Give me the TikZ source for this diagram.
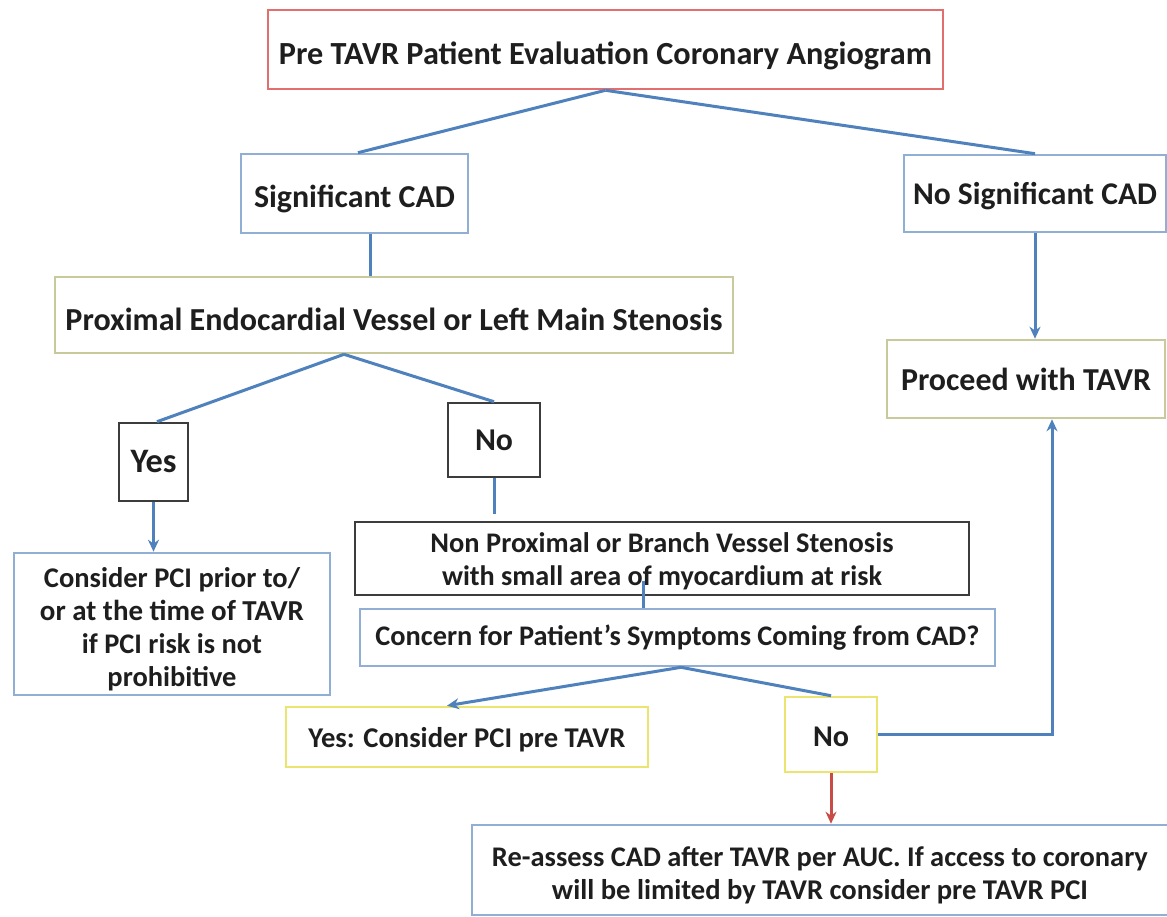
\documentclass[tikz,border=0pt]{standalone}
\usepackage{fontspec}
\setmainfont{Carlito}
\usetikzlibrary{arrows.meta,calc}
\definecolor{cblue}{RGB}{79,129,189}
\definecolor{cred}{RGB}{200,75,70}
\definecolor{bred}{RGB}{226,110,110}
\definecolor{bblue}{RGB}{145,175,212}
\definecolor{bkhaki}{RGB}{200,202,155}
\definecolor{bdark}{RGB}{60,60,60}
\definecolor{byellow}{RGB}{235,228,110}
\definecolor{txt}{RGB}{30,30,30}
\newcommand{\fitw}[2]{\resizebox{#1}{!}{#2}}
% lower the content of a centred node by half of #1
\newcommand{\lowr}[2]{\raisebox{0pt}[\dimexpr\height+#1\relax][\depth]{#2}}
\tikzset{
 box/.style={draw, line width=2.6pt, inner sep=0pt, align=center, text=txt,
   font=\fontsize{30}{33}\selectfont\bfseries},
 conn/.style={draw=cblue, line width=3pt},
 arr/.style={conn, -{Stealth[length=12pt,width=11pt]}},
 redarr/.style={draw=cred, line width=3pt, -{Stealth[length=12pt,width=11pt]}},
}
\begin{document}
\begin{tikzpicture}
\useasboundingbox[fill=white] (0,0) rectangle (1167pt,-917pt);

\node[box, draw=bred, minimum width=675pt, minimum height=79pt] (top) at (605.5pt,-49.5pt)
  {\lowr{13pt}{\fitw{653pt}{Pre TAVR Patient Evaluation Coronary Angiogram}}};
\node[box, draw=bblue, minimum width=227pt, minimum height=79pt] (sig) at (354.5pt,-193.5pt)
  {\lowr{11pt}{\fitw{201pt}{Significant CAD}}};
\node[box, draw=bblue, minimum width=262pt, minimum height=77pt] (nosig) at (1035pt,-193.5pt)
  {\lowr{5pt}{\fitw{244pt}{No Significant CAD}}};
\node[box, draw=bkhaki, minimum width=678pt, minimum height=76pt] (prox) at (394pt,-315pt)
  {\lowr{9pt}{\fitw{657pt}{Proximal Endocardial Vessel or Left Main Stenosis}}};
\node[box, draw=bkhaki, minimum width=278pt, minimum height=78pt] (proceed) at (1026pt,-379pt)
  {\fitw{250pt}{Proceed with TAVR}};
\node[box, draw=bdark, minimum width=69pt, minimum height=78pt] (yes) at (153.5pt,-462pt)
  {\fitw{46pt}{Yes}};
\node[box, draw=bdark, minimum width=92pt, minimum height=74pt] (noa) at (494pt,-440pt)
  {\fitw{38pt}{No}};
\node[box, draw=bblue, minimum width=316pt, minimum height=142pt] (consider) at (172pt,-624pt)
  {\lowr{10pt}{\fitw{256pt}{Consider PCI prior to/}}\\ \fitw{264pt}{or at the time of TAVR}\\
   \fitw{180pt}{if PCI risk is not}\\ \fitw{129pt}{prohibitive}};
\node[box, draw=bdark, minimum width=614pt, minimum height=73pt] (nonprox) at (662pt,-558.5pt)
  {\lowr{6pt}{\fitw{463pt}{Non Proximal or Branch Vessel Stenosis}}\\ \fitw{440pt}{with small area of myocardium at risk}};
\node[box, draw=bblue, minimum width=635pt, minimum height=57pt] (concern) at (677.5pt,-637.5pt)
  {\fitw{604pt}{Concern for Patient’s Symptoms Coming from CAD?}};
\node[box, draw=byellow, minimum width=362pt, minimum height=60pt] (yesc) at (467pt,-737pt)
  {\lowr{5pt}{\fitw{317pt}{Yes: Consider PCI pre TAVR}}};
\node[box, draw=byellow, minimum width=92pt, minimum height=75pt] (nob) at (831pt,-734.5pt)
  {\lowr{5pt}{\fitw{36pt}{No}}};
\node[box, draw=bblue, minimum width=696pt, minimum height=90pt] (reassess) at (820pt,-870pt)
  {\lowr{10pt}{\fitw{656pt}{Re-assess CAD after TAVR per AUC. If access to coronary}}\\
   \fitw{536pt}{will be limited by TAVR consider pre TAVR PCI}};

% connectors
\draw[conn] (top.south) -- ([xshift=3.5pt]sig.north);
\draw[conn] (top.south) -- (nosig.north);
\draw[arr] (nosig.south) -- (proceed.north -| nosig.south);
\draw[conn] ([xshift=16pt]sig.south) -- ([xshift=16pt]sig.south |- prox.north);
\draw[conn] ([xshift=-50pt]prox.south) -- ([xshift=3.5pt]yes.north);
\draw[conn] ([xshift=-50pt]prox.south) -- (noa.north);
\draw[arr] (yes.south) -- (yes.south |- consider.north);
\draw[conn, shorten >=7pt] (noa.south) -- (noa.south |- nonprox.north);
\draw[conn] ([xshift=-19pt,yshift=15pt]nonprox.south) -- ([xshift=-19pt]nonprox.south |- concern.north);
\draw[arr] ([xshift=3.5pt]concern.south) -- ([xshift=-20pt]yesc.north);
\draw[conn] ([xshift=3.5pt]concern.south) -- (nob.north);
\draw[arr] (nob.east) -- ([xshift=26pt]proceed.south |- nob.east) -- ([xshift=26pt]proceed.south);
\draw[redarr] (nob.south) -- (nob.south |- reassess.north);
\end{tikzpicture}
\end{document}
